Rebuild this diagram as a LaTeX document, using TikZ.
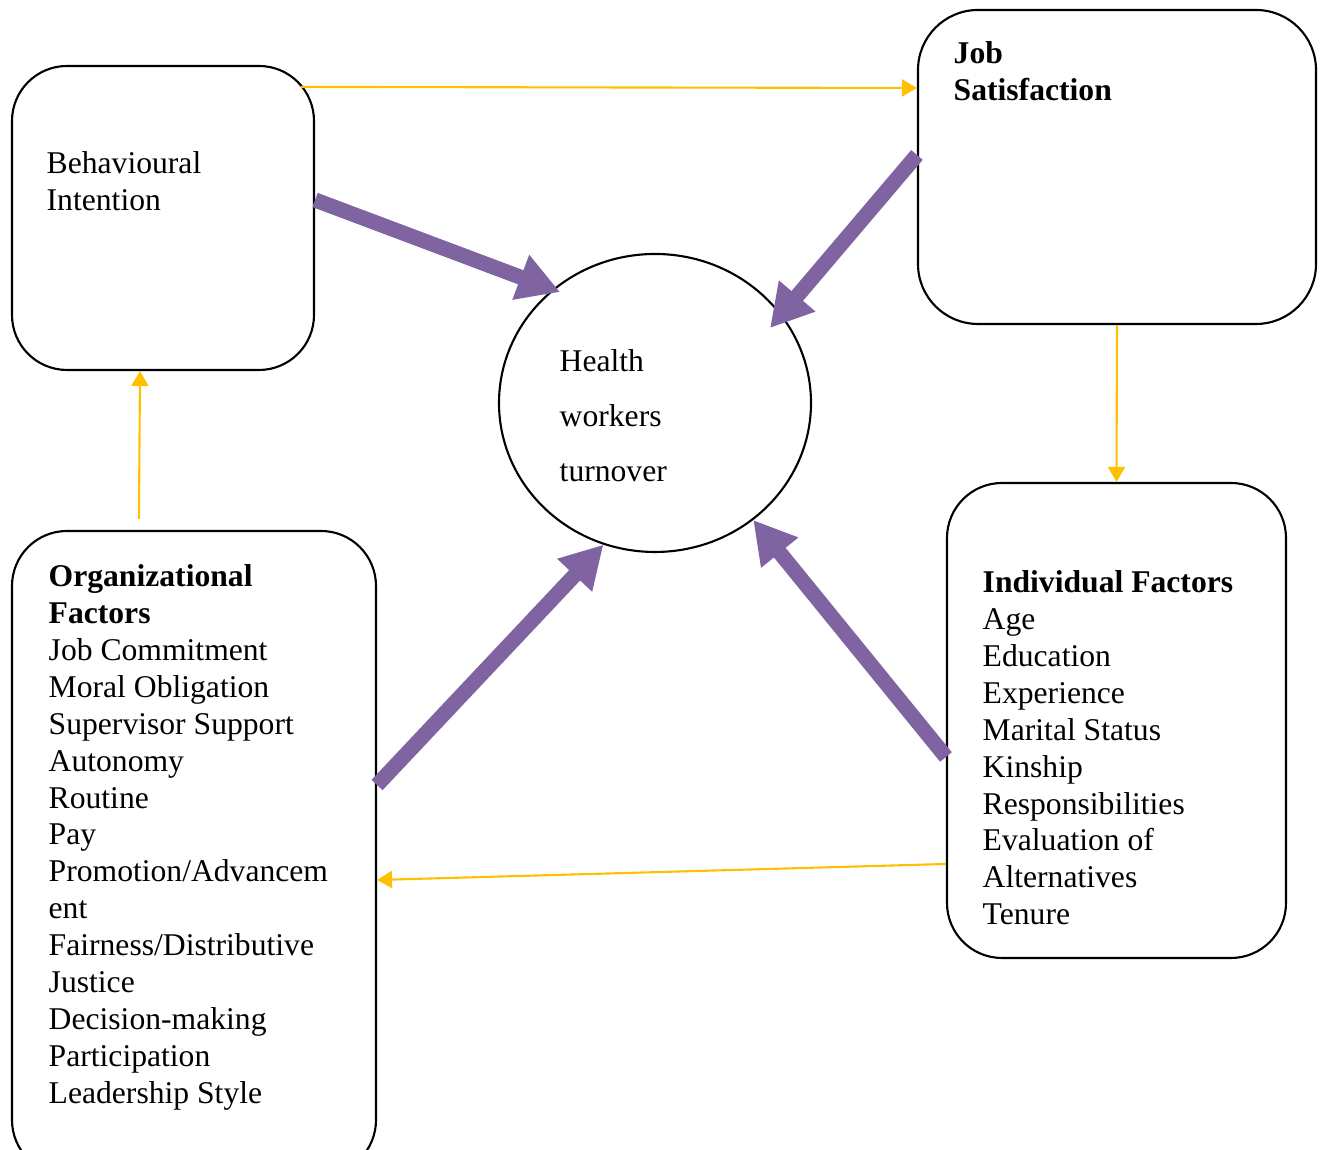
\documentclass[tikz,border=0pt]{standalone}
\usepackage{fontspec}
\setmainfont{Liberation Serif}
\usetikzlibrary{arrows.meta, shapes.geometric}

\definecolor{pathpurple}{RGB}{128,100,162}
\definecolor{linkgold}{RGB}{255,192,0}

\tikzset{
  factor/.style = {draw, rounded corners=5.5mm, line width=0.6pt},
  factortext/.style = {anchor=north west, align=left, inner sep=0pt, font=\fontsize{9}{10.5}\selectfont},
  push/.style = {draw=pathpurple, line width=4.3pt, -{Triangle[length=4.2mm,width=4.5mm]}},
  link/.style = {draw=linkgold, line width=0.6pt, -{Triangle[length=1.5mm,width=1.7mm]}}
}

\begin{document}
\begin{tikzpicture}
\clip (0,0) rectangle (13.25,11.5);
% the four boxes and the turnover circle
\node[factor, minimum width=3.02cm, minimum height=3.04cm] (bi) at (1.63,9.32) {};
\node[factor, minimum width=3.98cm, minimum height=3.14cm, rounded corners=6mm] (js) at (11.17,9.83) {};
\node[factor, minimum width=3.64cm, minimum height=6.44cm] (of) at (1.94,2.97) {};
\node[factor, minimum width=3.39cm, minimum height=4.75cm] (if) at (11.165,4.295) {};
\node[draw, ellipse, line width=0.6pt, minimum width=3.12cm, minimum height=2.98cm] (hwt) at (6.55,7.47) {};

% texts
\node[factortext] (bitxt) at (0.46,9.99) {Behavioural\\Intention};
\node[factortext] (jstxt) at (9.53,11.09) {\textbf{Job}\\\textbf{Satisfaction}};
\node[factortext, font=\fontsize{9}{15.6}\selectfont] (hwttxt) at (5.59,8.01) {Health\\workers\\turnover};
\node[factortext] (oftxt) at (0.48,5.86) {\textbf{Organizational}\\\textbf{Factors}\\Job Commitment\\Moral Obligation\\Supervisor Support\\Autonomy\\Routine\\Pay\\Promotion/Advancem\\ent\\Fairness/Distributive\\Justice\\Decision-making\\Participation\\Leadership Style};
\node[factortext] (iftxt) at (9.82,5.80) {\textbf{Individual Factors}\\Age\\Education\\Experience\\Marital Status\\Kinship\\Responsibilities\\Evaluation of\\Alternatives\\Tenure};

% main effects on turnover
\draw[push, shorten >=-0.8mm] ([yshift=1.8mm]bi.east) -- (hwt.132);
\draw[push, shorten >=-1.8mm] ([yshift=1.2mm]js.west) -- (hwt.35);
\draw[push] ([yshift=6.8mm]of.east) -- (hwt.250);
\draw[push] ([yshift=-3.65mm]if.west) -- (hwt.310);

% links between the factors
\draw[link] ([shift={(-1.4mm,-2.2mm)}]bi.north east) -- ([yshift=7.9mm]js.west);
\draw[link] (js.south) -- (if.north);
\draw[link] ([shift={(12.8mm,1.1mm)}]of.north west) -- ([xshift=-2.3mm]bi.south);
\draw[link] ([yshift=-14.35mm]if.west) -- ([yshift=-2.7mm]of.east);
\end{tikzpicture}
\end{document}
